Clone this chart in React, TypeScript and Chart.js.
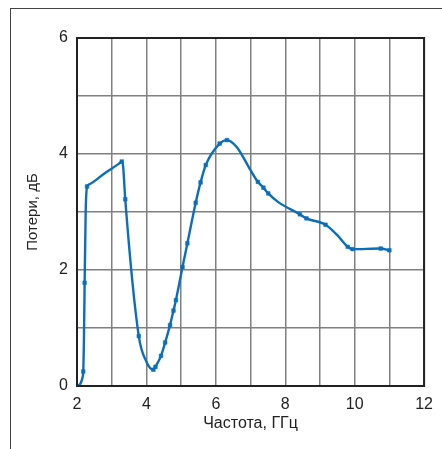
import React, { useEffect, useRef } from "react";
import { Chart, registerables } from "chart.js";

Chart.register(...registerables);

// Frequency, GHz
const freq = [
  2.0, 2.1, 2.16, 2.18, 2.2, 2.22, 2.25, 2.29, 2.33, 2.8, 3.2, 3.29, 3.33, 3.39, 3.78,
  4.0, 4.2, 4.26, 4.42, 4.54, 4.68, 4.78, 4.85, 5.04, 5.18, 5.42, 5.56, 5.71,
  6.11, 6.32, 6.6, 7.0, 7.21, 7.37, 7.51, 7.8, 8.42, 8.61, 9.16, 9.5, 9.8, 9.94,
  10.75, 11.0,
];
// Losses, dB
const loss = [
  0.0, 0.04, 0.15, 0.25, 0.8, 1.78, 3.0, 3.44, 3.47, 3.67, 3.83, 3.87, 3.78, 3.22, 0.86,
  0.42, 0.28, 0.33, 0.52, 0.75, 1.05, 1.3, 1.48, 2.05, 2.46, 3.16, 3.51, 3.81,
  4.18, 4.24, 4.12, 3.72, 3.52, 3.42, 3.32, 3.17, 2.96, 2.89, 2.78, 2.6, 2.4, 2.36,
  2.37, 2.34,
];
// Whether the point is a measured sample (drawn with a marker)
const measured = [
  false, false, false, true, false, true, false, true, false, false, false, true, false, true, true,
  false, true, true, true, true, true, true, true, true, true, true, true, true,
  true, true, false, false, true, true, true, false, true, true, true, false, true, true,
  true, true,
];

const xTicks = [2, 4, 6, 8, 10, 12];
const yTicks = [0, 2, 4, 6];

const FONT = "'Liberation Sans', Arial, sans-serif";

export default function App() {
  const ref = useRef<HTMLCanvasElement | null>(null);

  useEffect(() => {
    if (!ref.current) return;
    const borderPlugin = {
      id: "plotBorder",
      afterDraw(chart: any) {
        const { ctx, chartArea } = chart;
        ctx.save();
        ctx.strokeStyle = "#222";
        ctx.lineWidth = 2;
        ctx.strokeRect(
          chartArea.left,
          chartArea.top,
          chartArea.right - chartArea.left,
          chartArea.bottom - chartArea.top
        );
        ctx.restore();
      },
    };
    const chart = new Chart(ref.current, {
      type: "scatter",
      data: {
        datasets: [
          {
            data: freq.map((x, i) => ({ x, y: loss[i] })),
            showLine: true,
            borderColor: "#0a6ebd",
            backgroundColor: "#0a6ebd",
            borderWidth: 2.4,
            cubicInterpolationMode: "monotone",
            pointStyle: "rect",
            pointRadius: measured.map((m) => (m ? 2.6 : 0)),
            pointBorderWidth: 0.5,
            pointHoverRadius: 0,
          },
        ],
      },
      options: {
        animation: false,
        responsive: false,
        events: [],
        layout: { padding: { left: 0, right: 15, top: 38, bottom: 0 } },
        plugins: { legend: { display: false }, tooltip: { enabled: false } },
        scales: {
          x: {
            type: "linear",
            min: 2,
            max: 12,
            afterFit: (s: any) => {
              s.height = 63;
            },
            afterBuildTicks: (s: any) => {
              const t = [];
              for (let v = 2; v <= 12; v++) t.push({ value: v });
              s.ticks = t;
            },
            grid: { color: "#808080", lineWidth: 1.5, drawTicks: false },
            border: { display: false },
            ticks: {
              padding: 9,
              color: "#222",
              font: { family: FONT, size: 16 },
              maxRotation: 0,
              autoSkip: false,
              callback: (v: any) => (xTicks.includes(Number(v)) ? String(v) : ""),
            },
            title: {
              display: true,
              text: "Частота, ГГц",
              color: "#222",
              font: { family: FONT, size: 16 },
              padding: { top: 0, bottom: 16 },
            },
          },
          y: {
            type: "linear",
            min: 0,
            max: 6,
            afterFit: (s: any) => {
              s.width = 77;
            },
            afterBuildTicks: (s: any) => {
              const t = [];
              for (let v = 0; v <= 6; v++) t.push({ value: v });
              s.ticks = t;
            },
            grid: { color: "#808080", lineWidth: 1.5, drawTicks: false },
            border: { display: false },
            ticks: {
              padding: 9,
              color: "#222",
              font: { family: FONT, size: 16 },
              autoSkip: false,
              callback: (v: any) => (yTicks.includes(Number(v)) ? String(v) : ""),
            },
            title: {
              display: true,
              text: "Потери, дБ",
              color: "#222",
              font: { family: FONT, size: 15 },
              padding: { top: 24, bottom: 0 },
            },
          },
        },
      },
      plugins: [borderPlugin],
    });
    return () => chart.destroy();
  }, []);

  return (
    <div style={{ position: "fixed", left: 0, top: 0, width: 442, height: 449, background: "#fff" }}>
      <div
        style={{
          position: "absolute",
          left: 10,
          top: 8,
          right: 0,
          bottom: 0,
          borderTop: "1.5px solid #444",
          borderLeft: "1.5px solid #444",
        }}
      />
      <canvas ref={ref} width={442} height={449} style={{ position: "absolute", left: 0, top: 0 }} />
    </div>
  );
}
